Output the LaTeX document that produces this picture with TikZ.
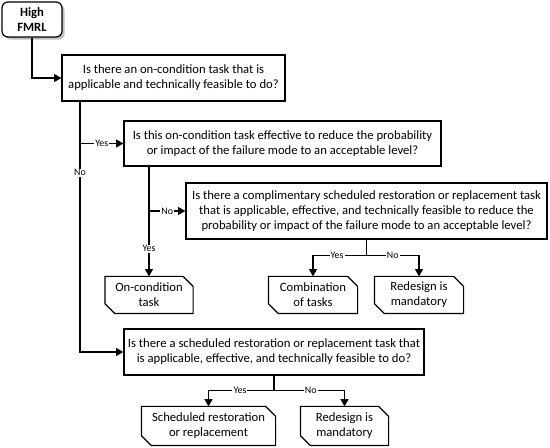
\documentclass[tikz,border=0pt]{standalone}
\usepackage{fontspec}
\setmainfont{Carlito}
\usetikzlibrary{arrows.meta,shadows,calc}
\begin{document}
\begin{tikzpicture}[x=0.75pt,y=-0.75pt,
  line width=0.9pt,
  arr/.style={-{Triangle[length=5.5pt,width=6pt]}},
  qbox/.style={draw,rectangle,inner sep=0pt,align=center,font=\fontsize{9.5}{11.4}\selectfont},
  tbox/.style={rectangle,inner sep=0pt,align=center,font=\fontsize{9.5}{11.4}\selectfont},
  lbl/.style={fill=white,inner sep=0.8pt,font=\fontsize{7.4}{8.5}\selectfont}
]
\useasboundingbox (0,0) rectangle (550,448);
\newcommand\cutbox[1]{\draw (#1.north west) -- ([xshift=-7.5pt]#1.north east) -- ([yshift=-7.5pt]#1.north east) -- (#1.south east) -- ([xshift=7.5pt]#1.south west) -- ([yshift=7.5pt]#1.south west) -- cycle;}

% start
\node[draw,rounded corners=4.5pt,minimum width=45pt,minimum height=26.25pt,inner sep=0pt,align=center,
  font=\fontsize{9.5}{11.4}\selectfont\bfseries,fill=white,
  drop shadow={shadow xshift=2pt,shadow yshift=-2pt,fill=black!25,opacity=1}] (hf) at (32,19.5) {High\\FMRL};

% questions
\node[qbox,minimum width=167.25pt,minimum height=34.5pt] (q1) at (173.5,78)
  {Is there an on-condition task that is\\applicable and technically feasible to do?};
\node[qbox,minimum width=237.75pt,minimum height=33.75pt] (q2) at (282.5,143.5)
  {Is this on-condition task effective to reduce the probability\\or impact of the failure mode to an acceptable level?};
\node[qbox,minimum width=270.75pt,minimum height=42pt] (q3) at (366.5,211)
  {Is there a complimentary scheduled restoration or replacement task\\that is applicable, effective, and technically feasible to reduce the\\probability or impact of the failure mode to an acceptable level?};
\node[qbox,minimum width=225pt,minimum height=34.5pt] (q4) at (274,352)
  {Is there a scheduled restoration or replacement task that\\is applicable, effective, and technically feasible to do?};

% terminals
\node[tbox,minimum width=65.25pt,minimum height=27pt] (oc) at (149,295) {On-condition\\task};
\node[tbox,minimum width=66pt,minimum height=27pt] (cb) at (313,295) {Combination\\of tasks};
\node[tbox,minimum width=66pt,minimum height=27pt] (rd1) at (419,295) {Redesign is\\mandatory};
\node[tbox,minimum width=99.75pt,minimum height=28.5pt] (sr) at (208.5,426) {Scheduled restoration\\or replacement};
\node[tbox,minimum width=65.25pt,minimum height=28.5pt] (rd2) at (344.5,426) {Redesign is\\mandatory};
\cutbox{oc}\cutbox{cb}\cutbox{rd1}\cutbox{sr}\cutbox{rd2}

% connectors
\draw[arr] (hf.south) |- (q1.west);

\coordinate (t1) at (80,101);
\draw[arr] (t1) |- node[lbl,pos=0.143]{No} (q4.west);
\draw[arr] (q2.west -| t1) -- node[lbl]{Yes} (q2.west);

\coordinate (t2) at (149,166);
\draw[arr] (t2) -- node[lbl,pos=0.75]{Yes} (oc.north);
\draw[arr] (q3.west -| t2) -- node[lbl]{No} (q3.west);

\coordinate (j3) at ($(q3.south)+(0,16)$);
\draw (q3.south) -- (j3);
\draw[arr] (j3) -| node[lbl,pos=0.275]{Yes} (cb.north);
\draw[arr] (j3) -| node[lbl,pos=0.25]{No} (rd1.north);

\coordinate (j4) at ($(q4.south)+(0,15)$);
\draw (q4.south) -- (j4);
\draw[arr] (j4) -| node[lbl,pos=0.26]{Yes} (sr.north);
\draw[arr] (j4) -| node[lbl,pos=0.26]{No} (rd2.north);
\end{tikzpicture}
\end{document}
